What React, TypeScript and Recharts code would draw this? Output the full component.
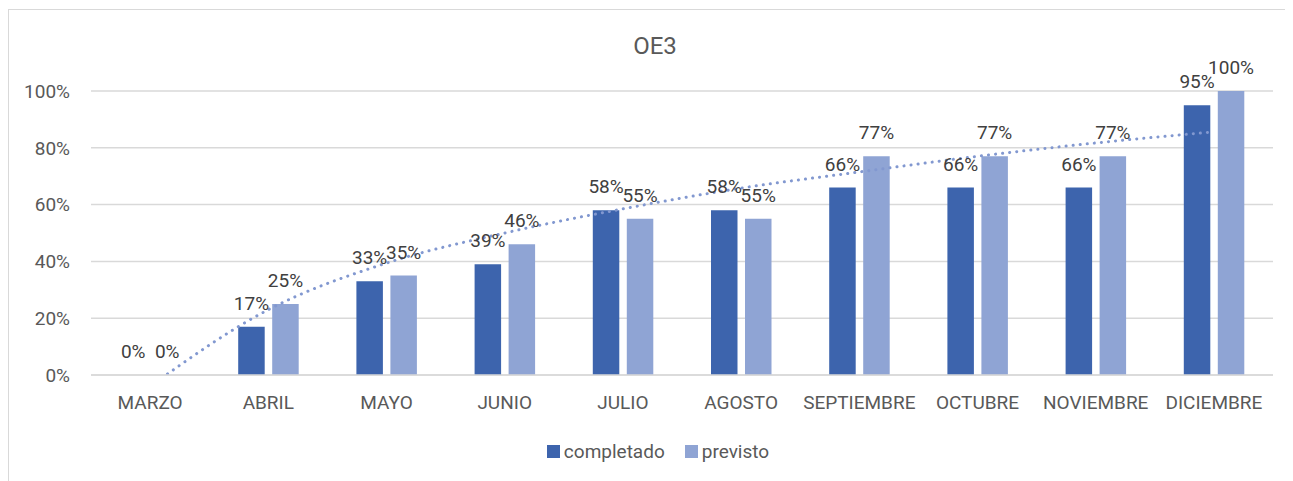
import React from "react";
import { ComposedChart, Bar, Line, XAxis, YAxis, CartesianGrid, Legend, LabelList } from "recharts";

const categories = ["MARZO", "ABRIL", "MAYO", "JUNIO", "JULIO", "AGOSTO", "SEPTIEMBRE", "OCTUBRE", "NOVIEMBRE", "DICIEMBRE"];
const completado = [0, 17, 33, 39, 58, 58, 66, 66, 66, 95];
const previsto = [0, 25, 35, 46, 55, 55, 77, 77, 77, 100];
const tendencia = [-4, 23, 39.4, 50, 58.5, 65.8, 71.5, 77, 81.7, 85.6];
const yTicks = [0, 20, 40, 60, 80, 100];

const data = categories.map((c, i) => ({
  mes: c,
  completado: completado[i],
  previsto: previsto[i],
  tendencia: tendencia[i],
}));

const FONT = "Roboto, 'Noto Sans', sans-serif";
const DARK = "#3d64ad";
const LIGHT = "#8fa4d4";

const renderLegend = (props: any) => {
  const payload = (props.payload || []).filter((p: any) => p.type !== "none" && p.value !== "tendencia");
  return (
    <div style={{ display: "flex", justifyContent: "center", alignItems: "center", height: 20, paddingLeft: 34, fontFamily: FONT, fontSize: 19, color: "#595959" }}>
      {payload.map((p: any, i: number) => (
        <div key={i} style={{ display: "flex", alignItems: "center", marginLeft: i === 0 ? 0 : 20 }}>
          <span style={{ display: "inline-block", width: 13, height: 13, background: p.color, marginRight: 4 }} />
          <span>{p.value}</span>
        </div>
      ))}
    </div>
  );
};

const labelStyle = { fill: "#404040", fontSize: 19, fontFamily: FONT };

export default function App() {
  return (
    <div style={{ position: "relative", marginTop: 1, width: 1300, height: 472, borderTop: "1.5px solid #d9d9d9", borderLeft: "1.5px solid #d9d9d9", background: "#fff" }}>
      <div style={{ position: "absolute", left: 0, width: 1292, top: 22, textAlign: "center", fontFamily: FONT, fontSize: 24, color: "#595959", lineHeight: "28px" }}>
        OE3
      </div>
      <ComposedChart
        width={1284}
        height={471}
        data={data}
        margin={{ top: 81, right: 20, bottom: 20, left: 0 }}
        barSize={26.5}
        barGap={7.5}
      >
        <CartesianGrid vertical={false} stroke="#d9d9d9" strokeWidth={1.5} />
        <XAxis
          dataKey="mes"
          interval={0}
          height={66}
          tickSize={0}
          tickMargin={21}
          tickLine={false}
          axisLine={{ stroke: "#d9d9d9", strokeWidth: 1.5 }}
          tick={{ fill: "#595959", fontSize: 19, fontFamily: FONT }}
        />
        <YAxis
          width={82}
          domain={[0, 100]}
          ticks={yTicks}
          allowDataOverflow
          tickSize={0}
          tickMargin={21}
          tickLine={false}
          axisLine={false}
          tickFormatter={(v: number) => `${v}%`}
          tick={{ fill: "#595959", fontSize: 19, fontFamily: FONT }}
        />
        <Bar dataKey="completado" name="completado" fill={DARK} minPointSize={0.01} isAnimationActive={false}>
          <LabelList dataKey="completado" position="top" offset={17} formatter={(v: any) => `${v}%`} style={labelStyle} />
        </Bar>
        <Bar dataKey="previsto" name="previsto" fill={LIGHT} minPointSize={0.01} isAnimationActive={false}>
          <LabelList dataKey="previsto" position="top" offset={17} formatter={(v: any) => `${v}%`} style={labelStyle} />
        </Bar>
        <Line
          dataKey="tendencia"
          name="tendencia"
          type="monotone"
          stroke="#8298d0"
          strokeWidth={3}
          strokeDasharray="0.1 7"
          strokeLinecap="round"
          dot={false}
          activeDot={false}
          legendType="none"
          isAnimationActive={false}
        />
        <Legend verticalAlign="bottom" align="center" height={20} content={renderLegend} />
      </ComposedChart>
    </div>
  );
}
